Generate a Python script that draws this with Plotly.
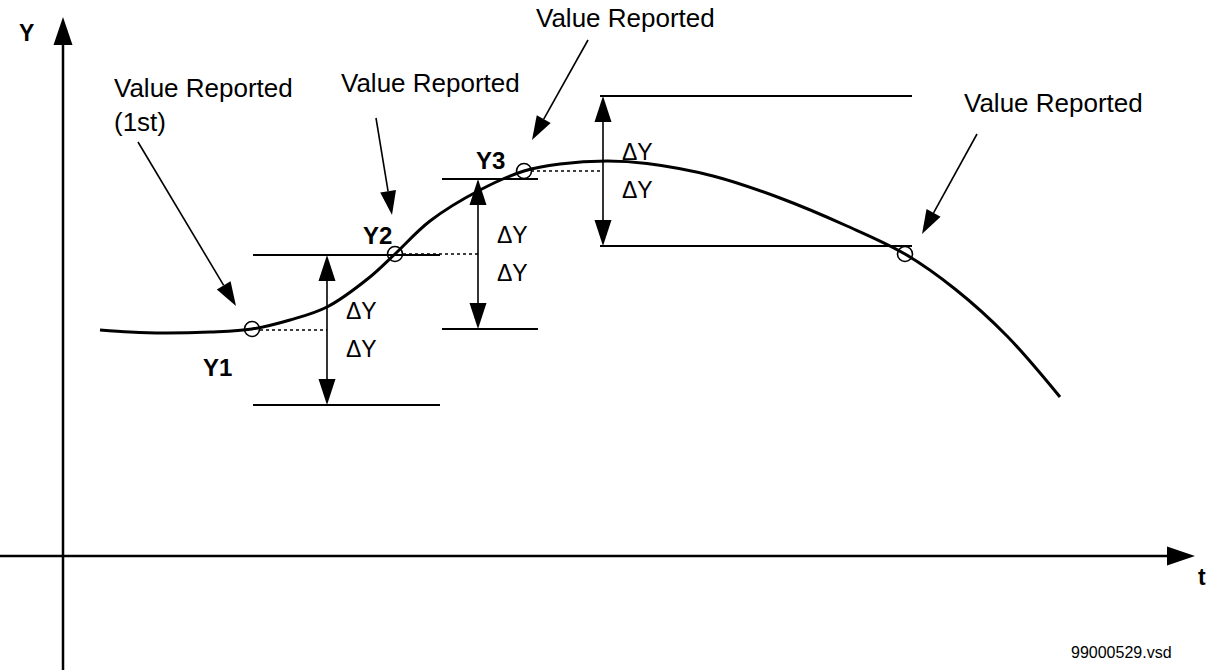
import math
import plotly.graph_objects as go

# ---------------- data (diagram units = canvas pixels, y grows downward) ----------------
curve_t = [100, 130, 163, 210, 252, 290, 327, 370, 395, 430, 480, 524, 560, 607,
           647, 713, 780, 847, 905, 955, 1007, 1060]
curve_y = [330, 332, 333, 332, 329, 320, 307, 277, 254, 221, 190, 171, 164, 161,
           163.5, 176, 198, 226, 254, 289, 336, 397]

reported_t = [252, 395, 524, 905]
reported_y = [329, 254, 171, 254]

level_names = ["Y1", "Y2", "Y3"]
level_label_t = [217, 377, 490]
level_label_y = [367, 235, 160]

delta_y = 75
band_center = [330, 254, 171]
band_x0 = [253, 442, 600]
band_x1 = [440, 538, 912]
band_arrow_x = [327, 478, 603]
band_dot_start = [260, 403, 531]
delta_label = "\u0394Y"

callout_texts = ["Value Reported<br>(1st)", "Value Reported", "Value Reported", "Value Reported"]
callout_text_x = [112, 430, 625, 1053]
callout_text_y = [105, 83, 18, 103]
callout_anchor = ["left", "center", "center", "center"]
callout_tail_x = [138, 376, 588, 977]
callout_tail_y = [142, 118, 40, 134]
callout_tip_x = [236, 392, 532, 922]
callout_tip_y = [306, 215, 140, 234]

axis_origin = (63, 556)
axis_y_top = 17
axis_y_bottom = 670
axis_x_left = 0
axis_x_right = 1195

watermark = "99000529.vsd"

FONT = "Liberation Sans, Arial, sans-serif"
BLACK = "#000000"

fig = go.Figure()
shapes = []
annotations = []


def line(x0, y0, x1, y1, width=1.8, dash="solid"):
    shapes.append(dict(type="line", x0=x0, y0=y0, x1=x1, y1=y1, xref="x", yref="y",
                       line=dict(color=BLACK, width=width, dash=dash)))


def head(tipx, tipy, fromx, fromy, length, width):
    dx, dy = tipx - fromx, tipy - fromy
    d = math.hypot(dx, dy)
    ux, uy = dx / d, dy / d
    bx, by = tipx - ux * length, tipy - uy * length
    px, py = -uy * width / 2, ux * width / 2
    path = "M {:.2f},{:.2f} L {:.2f},{:.2f} L {:.2f},{:.2f} Z".format(
        tipx, tipy, bx + px, by + py, bx - px, by - py)
    shapes.append(dict(type="path", path=path, xref="x", yref="y",
                       fillcolor=BLACK, line=dict(color=BLACK, width=0)))
    return bx, by


def arrow(fromx, fromy, tipx, tipy, length, width, lw):
    bx, by = head(tipx, tipy, fromx, fromy, length, width)
    line(fromx, fromy, bx, by, width=lw)


def text(x, y, s, size, bold=False, xanchor="center"):
    annotations.append(dict(x=x, y=y, xref="x", yref="y", text=("<b>%s</b>" % s) if bold else s,
                            showarrow=False, xanchor=xanchor, yanchor="middle", align=xanchor,
                            font=dict(family=FONT, size=size, color=BLACK)))


# axes
ox, oy = axis_origin
line(ox, axis_y_bottom, ox, axis_y_top + 26, width=2.5)
head(ox, axis_y_top, ox, axis_y_bottom, 28, 19)
line(axis_x_left, oy, axis_x_right - 26, oy, width=2.5)
head(axis_x_right, oy, axis_x_left, oy, 28, 19)
text(26, 33, "Y", 23, bold=True)
text(1202, 577, "t", 23, bold=True)

# tolerance bands
for c, x0, x1, ax, ds in zip(band_center, band_x0, band_x1, band_arrow_x, band_dot_start):
    top, bot = c - delta_y, c + delta_y
    line(x0, top, x1, top)
    line(x0, bot, x1, bot)
    line(ds, c, ax, c, width=1.5, dash="3px,3px")
    head(ax, top, ax, c, 26, 17)
    head(ax, bot, ax, c, 26, 17)
    line(ax, top + 24, ax, bot - 24, width=1.6)
    text(ax + 17, c - 19, delta_label, 23, xanchor="left")
    text(ax + 17, c + 19, delta_label, 23, xanchor="left")

# callouts
for s, tx, ty, anc, fx, fy, px, py in zip(callout_texts, callout_text_x, callout_text_y,
                                          callout_anchor, callout_tail_x, callout_tail_y,
                                          callout_tip_x, callout_tip_y):
    text(tx, ty, s, 26, xanchor=anc)
    arrow(fx, fy, px, py, 24, 16, 1.6)

# level labels
for n, lx, ly in zip(level_names, level_label_t, level_label_y):
    text(lx, ly, n, 24, bold=True)

text(1121, 652, watermark, 16)

# curve and reported points
fig.add_trace(go.Scatter(x=curve_t, y=curve_y, mode="lines",
                         line=dict(color=BLACK, width=3, shape="spline", smoothing=1.0),
                         hoverinfo="skip"))
fig.add_trace(go.Scatter(x=reported_t, y=reported_y, mode="markers",
                         marker=dict(symbol="circle-open", size=15, color=BLACK,
                                     line=dict(color=BLACK, width=1.6)),
                         hoverinfo="skip"))

fig.update_layout(
    width=1213, height=671,
    margin=dict(l=0, r=0, t=0, b=0),
    paper_bgcolor="white", plot_bgcolor="white",
    showlegend=False,
    xaxis=dict(range=[0, 1213], visible=False, fixedrange=True),
    yaxis=dict(range=[671, 0], visible=False, fixedrange=True),
    shapes=shapes, annotations=annotations,
)

fig.write_html("out.html", config={"displayModeBar": False},
               post_script="document.body.style.margin='0';")
